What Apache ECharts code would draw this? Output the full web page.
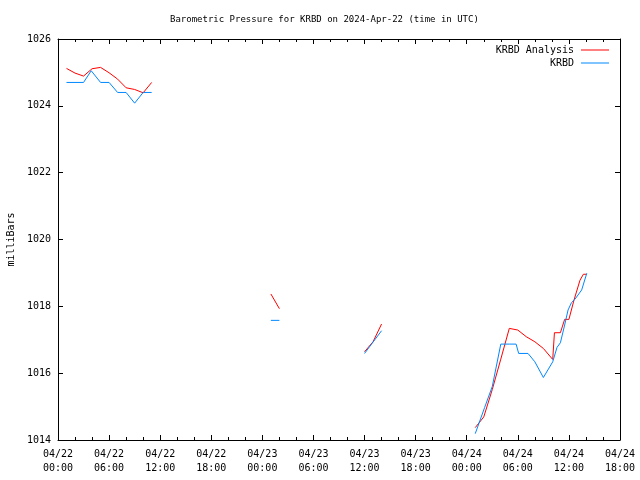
<!DOCTYPE html>
<html>
<head>
<meta charset="utf-8">
<script src="https://cdn.jsdelivr.net/npm/echarts@6/dist/echarts.min.js"></script>
<style>html,body{margin:0;padding:0;background:#fff}#c{width:640px;height:480px}</style>
</head>
<body>
<div id="c"></div>
<script>
// Hours since 2024-04-22 00:00 UTC
const xTickLabels = ['04/22\n00:00','04/22\n06:00','04/22\n12:00','04/22\n18:00','04/23\n00:00','04/23\n06:00','04/23\n12:00','04/23\n18:00','04/24\n00:00','04/24\n06:00','04/24\n12:00','04/24\n18:00'];
const seriesNames = ['KRBD Analysis', 'KRBD'];

const analysisHours = [1,2,3,4,5,6,7,8,9,10,11, null, 25,26, null, 36,37,38, null,
  49,50,51,52,53,54,55,56,57,58.1,58.3,59,59.5,60,60.6,61.3,61.7,62.1];
const analysisValues = [1025.12,1024.98,1024.89,1025.11,1025.15,1024.99,1024.80,1024.54,1024.49,1024.39,1024.70, null, 1018.37,1017.93, null, 1016.64,1016.94,1017.47, null,
  1014.37,1014.69,1015.51,1016.42,1017.34,1017.29,1017.09,1016.94,1016.74,1016.41,1017.21,1017.21,1017.61,1017.61,1018.19,1018.78,1018.96,1018.96];

const obsHours = [1,2,3,3.9,5,6,7,8,9,10,11, null, 25,26, null, 36,37,38, null,
  49,50.1,51,52,53,53.8,54.1,55.2,56,57,58.1,58.6,59,59.5,59.9,60.3,60.7,61.5,62.1];
const obsValues = [1024.70,1024.70,1024.70,1025.05,1024.70,1024.70,1024.40,1024.40,1024.08,1024.40,1024.40, null, 1017.58,1017.58, null, 1016.59,1016.93,1017.27, null,
  1014.19,1014.97,1015.60,1016.87,1016.87,1016.87,1016.59,1016.59,1016.34,1015.87,1016.34,1016.77,1016.91,1017.44,1017.89,1018.11,1018.21,1018.49,1018.99];

const colors = ['#ff0000', '#0088ff'];

function pairs(xs, ys){ return xs.map((x,i)=> x===null ? ['-','-'] : [x, ys[i]]); }

const FONT = 'DejaVu Sans Mono';
const chart = echarts.init(document.getElementById('c'), null, {renderer:'canvas'});

function xAx(pos, showLabel){
  return {
    type:'value', position:pos, min:0, max:66, interval:6,
    axisLine:{show:true, onZero:false, lineStyle:{color:'#000', width:1}},
    axisTick:{show:true, inside:true, length:5, lineStyle:{color:'#000'}},
    minorTick:{show:true, splitNumber:3, length:3, lineStyle:{color:'#000'}},
    splitLine:{show:false},
    axisLabel:{show:showLabel, color:'#000', fontFamily:FONT, fontSize:10, lineHeight:14, margin:7,
      formatter:(v)=> xTickLabels[Math.round(v/6)]}
  };
}
function yAx(pos, showLabel){
  return {
    type:'value', position:pos, min:1014, max:1026, interval:2,
    name: showLabel ? 'milliBars' : '', nameLocation:'middle', nameGap:42, nameRotate:90,
    nameTextStyle:{color:'#000', fontFamily:FONT, fontSize:10},
    axisLine:{show:true, onZero:false, lineStyle:{color:'#000', width:1}},
    axisTick:{show:true, inside:true, length:5, lineStyle:{color:'#000'}},
    splitLine:{show:false},
    axisLabel:{show:showLabel, color:'#000', fontFamily:FONT, fontSize:10, margin:7,
      formatter:(v)=> String(v)}
  };
}

chart.setOption({
  animation:false,
  backgroundColor:'#fff',
  title:{text:'Barometric Pressure for KRBD on 2024-Apr-22 (time in UTC)', left:165, top:10,
    textStyle:{color:'#000', fontFamily:FONT, fontSize:9, fontWeight:'normal'}},
  legend:{orient:'vertical', align:'right', right:31, top:45, padding:0,
    icon:'rect', itemWidth:28, itemHeight:1, itemGap:3, selectedMode:false,
    textStyle:{color:'#000', fontFamily:FONT, fontSize:10, padding:[0,2,0,0]},
    data:seriesNames},
  grid:{left:58, right:20, top:39, bottom:40, containLabel:false, outerBoundsMode:'none'},
  xAxis:[xAx('bottom', true), xAx('top', false)],
  yAxis:[yAx('left', true), yAx('right', false)],
  series:[
    {name:seriesNames[0], type:'line', data:pairs(analysisHours, analysisValues), showSymbol:false, symbol:'none',
     connectNulls:false, lineStyle:{color:colors[0], width:1}, itemStyle:{color:colors[0]}},
    {name:seriesNames[1], type:'line', data:pairs(obsHours, obsValues), showSymbol:false, symbol:'none',
     connectNulls:false, lineStyle:{color:colors[1], width:1}, itemStyle:{color:colors[1]}}
  ]
});
</script>
</body>
</html>
